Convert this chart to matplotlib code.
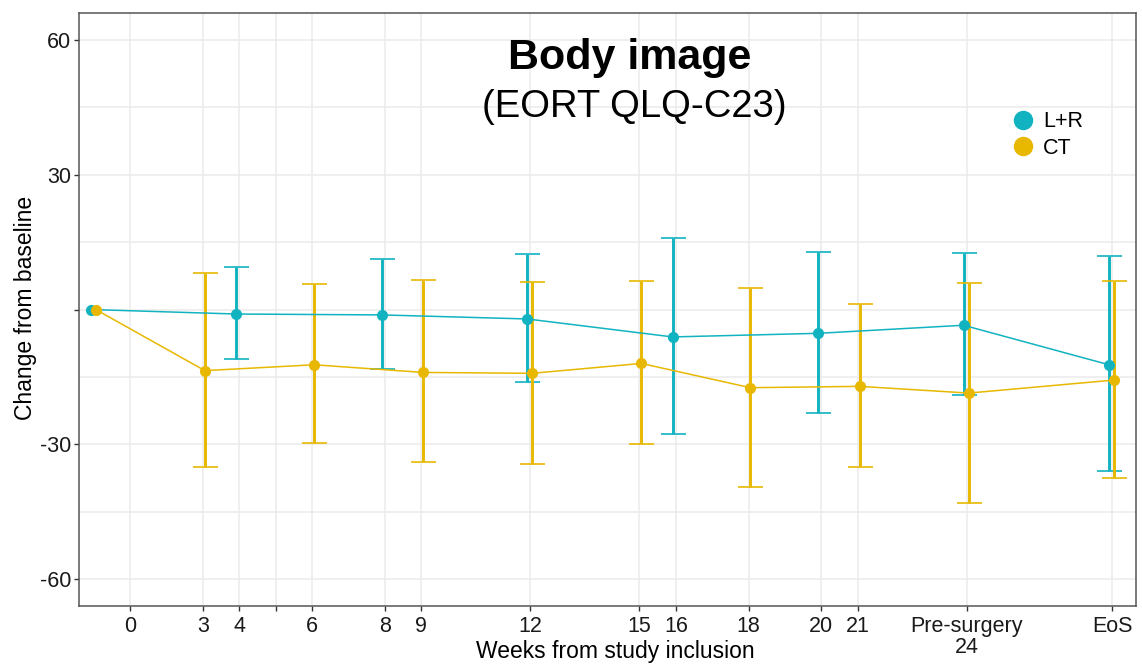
import matplotlib
matplotlib.use("Agg")
import matplotlib.pyplot as plt
import numpy as np

plt.rcParams["font.family"] = ["Liberation Sans", "DejaVu Sans"]

# Weeks from study inclusion at which each arm was assessed (28 = end of study)
lr_weeks = [0, 4, 8, 12, 16, 20, 24, 28]
lr_mean = [0.0, -1.0, -1.2, -2.1, -6.1, -5.3, -3.5, -12.3]
lr_low = [0.0, -11.0, -13.3, -16.2, -27.7, -23.0, -19.1, -36.0]
lr_high = [0.0, 9.5, 11.2, 12.4, 15.9, 12.8, 12.6, 12.0]

ct_weeks = [0, 3, 6, 9, 12, 15, 18, 21, 24, 28]
ct_mean = [0.0, -13.6, -12.3, -14.0, -14.2, -12.0, -17.4, -17.1, -18.6, -15.7]
ct_low = [0.0, -35.0, -29.8, -34.0, -34.3, -30.0, -39.4, -35.1, -43.0, -37.4]
ct_high = [0.0, 8.2, 5.7, 6.6, 6.2, 6.4, 4.8, 1.2, 6.0, 6.3]

tick_pos = [1, 3, 4, 5, 6, 8, 9, 12, 15, 16, 18, 20, 21, 24, 28]
tick_labels = ["0", "3", "4", "", "6", "8", "9", "12", "15", "16", "18",
               "20", "21", "Pre-surgery\n24", "EoS"]

y_ticks = [60, 30, 0, -30, -60]
y_labels = ["60", "30", "", "-30", "-60"]

TEAL = "#12B3C1"
GOLD = "#E8B800"

fig = plt.figure(figsize=(11.42, 6.64), dpi=100)
ax = fig.add_axes([0.0692, 0.0873, 0.9255, 0.8931])

series = [
    ("L+R", lr_weeks, lr_mean, lr_low, lr_high, TEAL, -0.09),
    ("CT", ct_weeks, ct_mean, ct_low, ct_high, GOLD, 0.05),
]

for name, wk, mean, low, high, col, shift in series:
    x = np.array(wk, dtype=float) + shift
    m = np.array(mean)
    bars = [m - np.array(low), np.array(high) - m]
    has_bar = (bars[0] + bars[1]) > 0
    ax.errorbar(x[has_bar], m[has_bar], yerr=[bars[0][has_bar], bars[1][has_bar]],
                fmt="none", ecolor=col, elinewidth=2.1, capsize=9,
                capthick=1.2, zorder=3)
    ax.plot(x, m, color=col, lw=1.1, zorder=4)
    ax.plot(x, m, "o", color=col, ms=7, zorder=5, linestyle="none")
    ax.plot([], [], "o", color=col, ms=13, label=name, linestyle="none")

ax.set_xlim(-0.41, 28.65)
ax.set_ylim(-66, 66)

ax.set_xticks(tick_pos)
ax.set_xticklabels(tick_labels, linespacing=1.0)
ax.set_yticks(y_ticks)
ax.set_yticklabels(y_labels)
ax.set_yticks([45, 15, -15, -45], minor=True)

ax.grid(True, which="major", color="#EBEBEB", lw=1.1)
ax.grid(True, which="minor", axis="y", color="#EBEBEB", lw=1.1)
ax.set_axisbelow(True)

ax.tick_params(axis="both", which="major", labelsize=15.5, colors="#333333",
               length=3.5, width=1, labelcolor="#1A1A1A")
ax.tick_params(axis="x", which="major", pad=4)
ax.tick_params(axis="y", which="major", pad=2)
ax.tick_params(axis="y", which="minor", length=0)
for sp in ax.spines.values():
    sp.set_color("#555555")
    sp.set_linewidth(1.1)

ax.set_xlabel("Weeks from study inclusion", fontsize=16.5, va="center")
ax.xaxis.set_label_coords(0.507, -0.076)
ax.set_ylabel("Change from baseline", fontsize=16.5, va="center")
ax.yaxis.set_label_coords(-0.051, 0.503)

ax.text(0.521, 0.924, "Body image", transform=ax.transAxes, ha="center",
        va="center", fontsize=31, fontweight="bold")
ax.text(0.525, 0.841, "(EORT QLQ-C23)", transform=ax.transAxes, ha="center",
        va="center", fontsize=27.5)

ax.legend(loc="center left", bbox_to_anchor=(0.881, 0.794), frameon=False,
          fontsize=15.5, handletextpad=0.32, labelspacing=0.25,
          borderpad=0, borderaxespad=0, handlelength=1.2)

fig.savefig("out.png", dpi=100)
